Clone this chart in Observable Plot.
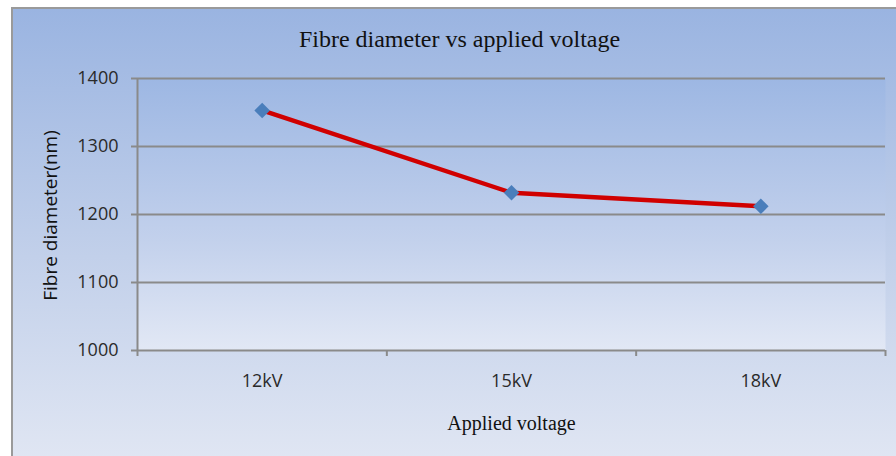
<!DOCTYPE html>
<html>
<head>
<meta charset="utf-8">
<script src="https://cdn.jsdelivr.net/npm/d3@7"></script>
<script src="https://cdn.jsdelivr.net/npm/@observablehq/plot@0.6"></script>
<style>
  html, body { margin: 0; padding: 0; background: #fff; }
  #wrap { position: relative; width: 896px; height: 456px; overflow: hidden; }
  #bg {
    position: absolute; left: 11px; top: 7px; right: -4px; bottom: -4px;
    border-left: 2px solid #9a9a9a; border-top: 2px solid #9a9a9a;
    background: linear-gradient(to bottom, #9ab4e1 0%, #c2d0ea 55%, #e0e6f3 100%);
  }
  #chart { position: absolute; left: 0; top: 0; }
  #chart svg { background: transparent !important; overflow: visible; }
  g[aria-label="y-axis tick"] path, g[aria-label="x-axis tick"] path { stroke: #8a8a8a; stroke-width: 2; }
  g[aria-label="y-axis tick label"], g[aria-label="x-axis tick label"] { fill: #2a2a2a; }
</style>
</head>
<body>
<div id="wrap"><div id="bg"></div><div id="chart"></div></div>
<script>
// Data
const categories = ["12kV", "15kV", "18kV"];
const diameters = [1353, 1232, 1212];
const yTicks = [1000, 1100, 1200, 1300, 1400];
const title = "Fibre diameter vs applied voltage";
const xLabel = "Applied voltage";
const yLabel = "Fibre diameter(nm)";

const data = categories.map((c, i) => ({cat: c, pos: i + 0.5, value: diameters[i]}));
const centers = categories.map((c, i) => i + 0.5);
const boundaries = d3.range(categories.length + 1);

const defs = () => {
  const d = d3.create("svg:defs");
  const g = d.append("linearGradient").attr("id", "plotgrad").attr("x1", 0).attr("y1", 0).attr("x2", 0).attr("y2", 1);
  g.append("stop").attr("offset", "0%").attr("stop-color", "#9db7e3");
  g.append("stop").attr("offset", "60%").attr("stop-color", "#c3d1ec");
  g.append("stop").attr("offset", "100%").attr("stop-color", "#e2e8f5");
  return d.node();
};

const serif = "'Liberation Serif', 'Times New Roman', serif";

const chart = Plot.plot({
  width: 896,
  height: 456,
  marginLeft: 137,
  marginRight: 11,
  marginTop: 78,
  marginBottom: 106,
  style: {background: "transparent", fontFamily: "'Open Sans', sans-serif"},
  x: {type: "linear", domain: [0, categories.length]},
  y: {domain: [1000, 1400]},
  marks: [
    defs,
    Plot.frame({fill: "url(#plotgrad)", stroke: "none"}),
    Plot.ruleY(yTicks, {stroke: "#8a8a8a", strokeWidth: 2}),
    Plot.ruleX([0], {stroke: "#8a8a8a", strokeWidth: 2}),
    Plot.axisY({ticks: yTicks, tickSize: 6, tickPadding: 13, fontSize: 18, label: null, tickFormat: d => String(d)}),
    Plot.axisX({ticks: boundaries, tickSize: 6, tickFormat: () => "", label: null}),
    Plot.axisX({ticks: centers, tickSize: 0, tickPadding: 24, fontSize: 18, label: null, tickFormat: (d) => categories[Math.floor(d)]}),
    Plot.line(data, {x: "pos", y: "value", stroke: "#d00000", strokeWidth: 4.5}),
    Plot.dot(data, {x: "pos", y: "value", symbol: "diamond2", r: 7, fill: "#4a7ebb", stroke: "none"}),
    Plot.text([title], {frameAnchor: "top", lineAnchor: "middle", textAnchor: "middle", dx: -52, dy: -39, fontSize: 24, fontFamily: serif, fill: "#111"}),
    Plot.text([xLabel], {frameAnchor: "bottom", lineAnchor: "middle", textAnchor: "middle", dx: 0, dy: 73, fontSize: 20, fontFamily: serif, fill: "#111"}),
    Plot.text([yLabel], {frameAnchor: "left", lineAnchor: "middle", textAnchor: "middle", dx: -87, dy: 1, rotate: -90, fontSize: 19, fill: "#111"})
  ]
});
document.getElementById("chart").appendChild(chart);
</script>
</body>
</html>
